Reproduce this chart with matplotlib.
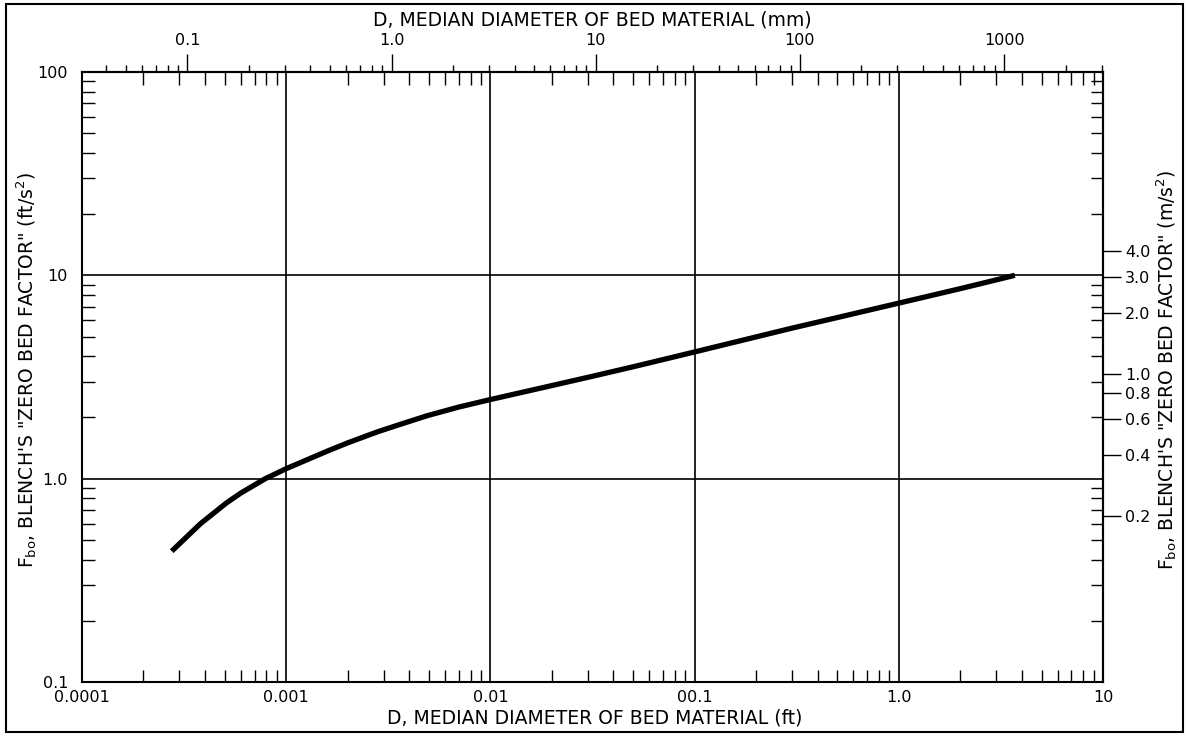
import numpy as np
import matplotlib
matplotlib.use("Agg")
import matplotlib.pyplot as plt
from matplotlib.ticker import LogLocator, NullLocator, NullFormatter
from matplotlib.patches import Rectangle

# curve: D (ft) vs Fbo (ft/s^2)
d_ft = [0.000275, 0.00038, 0.00051, 0.0006, 0.00079, 0.001, 0.0016, 0.002,
        0.0028, 0.0035, 0.0049, 0.007, 0.01, 0.02, 0.03, 0.05, 0.1, 0.3,
        0.5, 1.0, 2.0, 3.7]
fbo = [0.44, 0.60, 0.76, 0.85, 1.0, 1.12, 1.37, 1.5,
       1.70, 1.83, 2.04, 2.25, 2.45, 2.87, 3.15, 3.55, 4.2, 5.5,
       6.2, 7.3, 8.6, 10.0]

x_ticks = [0.0001, 0.001, 0.01, 0.1, 1.0, 10]
x_labels = ["0.0001", "0.001", "0.01", "00.1", "1.0", "10"]
y_ticks = [0.1, 1.0, 10, 100]
y_labels = ["0.1", "1.0", "10", "100"]
mm_ticks = [0.1, 1.0, 10, 100, 1000]
mm_labels = ["0.1", "1.0", "10", "100", "1000"]
ms2_ticks = [0.2, 0.4, 0.6, 0.8, 1.0, 2.0, 3.0, 4.0]
ms2_labels = ["0.2", "0.4", "0.6", "0.8", "1.0", "2.0", "3.0", "4.0"]

FT_TO_MM = 304.8
FT_TO_M = 0.3048

W, H = 1188, 736
fig = plt.figure(figsize=(W / 100, H / 100), dpi=100)
plt.rcParams['font.family'] = ['DejaVu Sans']
fs = 11.5      # tick labels
tfs = 13.5     # axis titles

# axes box in pixels: x 82..1103, y 72..682
ax = fig.add_axes([82 / W, 1 - 682 / H, (1103 - 82) / W, (682 - 72) / H])
ax.set_xscale('log')
ax.set_yscale('log')
ax.set_xlim(0.0001, 10)
ax.set_ylim(0.1, 100)

ax.plot(d_ft, fbo, color='black', lw=3.8, solid_capstyle='butt', solid_joinstyle='round')

ax.set_xticks(x_ticks, x_labels)
ax.set_yticks(y_ticks, y_labels)
ax.xaxis.set_minor_locator(LogLocator(base=10, subs=np.arange(2, 10), numticks=100))
ax.yaxis.set_minor_locator(LogLocator(base=10, subs=np.arange(2, 10), numticks=100))
ax.xaxis.set_minor_formatter(NullFormatter())
ax.yaxis.set_minor_formatter(NullFormatter())
ax.grid(True, which='major', color='black', lw=1.2)
ax.tick_params(which='major', length=0, labelsize=fs, pad=6)
ax.tick_params(axis='y', which='major', pad=10)
ax.tick_params(which='minor', direction='in', length=9, width=1,
               top=True, right=True, bottom=True, left=True)
for s in ax.spines.values():
    s.set_linewidth(1.5)

# top axis in mm
top = ax.secondary_xaxis('top', functions=(lambda x: x * FT_TO_MM, lambda x: x / FT_TO_MM))
top.set_xticks(mm_ticks, mm_labels)
top.xaxis.set_minor_locator(LogLocator(base=10, subs=np.arange(2, 10), numticks=100))
top.xaxis.set_minor_formatter(NullFormatter())
top.tick_params(which='major', direction='out', length=13, width=1, labelsize=fs, pad=4)
top.tick_params(which='minor', direction='out', length=5, width=1)
top.spines['top'].set_linewidth(1.5)

# right axis in m/s^2
right = ax.secondary_yaxis('right', functions=(lambda y: y * FT_TO_M, lambda y: y / FT_TO_M))
right.set_yticks(ms2_ticks, ms2_labels)
right.yaxis.set_minor_locator(NullLocator())
right.tick_params(which='major', direction='out', length=13, width=1, labelsize=fs, pad=3)
right.spines['right'].set_linewidth(1.5)

# axis titles
fig.text(592 / W, 1 - 20 / H, "D, MEDIAN DIAMETER OF BED MATERIAL (mm)",
         ha='center', va='center', fontsize=tfs)
fig.text(595 / W, 1 - 718 / H, "D, MEDIAN DIAMETER OF BED MATERIAL (ft)",
         ha='center', va='center', fontsize=tfs)
fig.text(27 / W, 1 - 370 / H,
         r'''F$_{\mathregular{bo}}$, BLENCH'S "ZERO BED FACTOR" (ft/s$^{\mathregular{2}}$)''',
         rotation=90, ha='center', va='center', fontsize=tfs)
fig.text(1167 / W, 1 - 370 / H,
         r'''F$_{\mathregular{bo}}$, BLENCH'S "ZERO BED FACTOR" (m/s$^{\mathregular{2}}$)''',
         rotation=90, ha='center', va='center', fontsize=tfs)

# frame around the whole figure
fig.add_artist(Rectangle((6 / W, 4 / H), (1183 - 6) / W, (732 - 4) / H,
                         transform=fig.transFigure, fill=False, lw=1.5, ec='black'))

fig.savefig("out.png", dpi=100)
